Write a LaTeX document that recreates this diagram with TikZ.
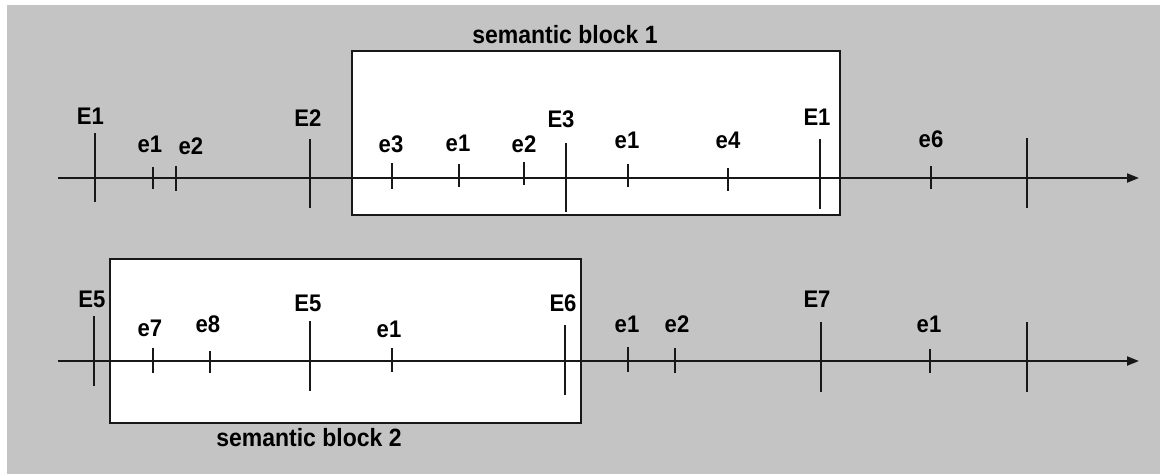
\documentclass[tikz,border=0pt]{standalone}
\usepackage{fontspec}
\setmainfont{Liberation Sans}[FakeStretch=0.92]
\usetikzlibrary{arrows.meta}
\definecolor{panel}{RGB}{196,196,196}
\definecolor{ink}{RGB}{24,24,24}
\begin{document}
\begin{tikzpicture}[x=1pt,y=-1pt,
  lbl/.style={anchor=base,inner sep=0pt,text=black,
    font=\bfseries\fontsize{24}{28}\selectfont},
  blocklbl/.style={lbl,font=\bfseries\fontsize{25}{29}\selectfont},
  blockbox/.style={draw=ink,line width=2pt,fill=white},
  axisline/.style={draw=ink,line width=2pt,-{Triangle[length=12pt,width=9pt]}},
  tickline/.style={draw=ink,line width=1.4pt}]
  \useasboundingbox (0,0) rectangle (1160,474);
  \fill[white] (0,0) rectangle (1160,474);
  \fill[panel] (7,5) rectangle (1160,474);

  % semantic blocks
  \draw[blockbox] (352,51) rectangle (840,215);
  \node[blocklbl] (sb1) at (565,43) {semantic block 1};
  \draw[blockbox] (110,259) rectangle (581,423);
  \node[blocklbl] (sb2) at (309,446) {semantic block 2};

  % time axes
  \coordinate (a1s) at (58,178);
  \coordinate (a1e) at (1139,178);
  \coordinate (a2s) at (58,361);
  \coordinate (a2e) at (1139,361);
  \draw[axisline] (a1s) -- (a1e);
  \draw[axisline] (a2s) -- (a2e);

  % ticks on the first axis: x / top / bottom
  \foreach \x/\ya/\yb [count=\i] in {95/133/202,153/167/189,176/166/191,
      310/139/208,392/163/189,459/164/187,524/162/185,566/143/212,
      628/164/187,728/168/191,820/139/209,931/166/189,1027/138/208}{
    \coordinate (ta\i) at (\x,\ya);
    \coordinate (tb\i) at (\x,\yb);
    \draw[tickline] (ta\i) -- (tb\i);
  }
  % ticks on the second axis
  \foreach \x/\ya/\yb [count=\i] in {94/316/386,153/348/373,210/351/373,
      310/321/391,392/348/372,565/325/395,628/347/372,675/348/373,
      821/322/392,930/349/373,1027/322/392}{
    \coordinate (ua\i) at (\x,\ya);
    \coordinate (ub\i) at (\x,\yb);
    \draw[tickline] (ua\i) -- (ub\i);
  }

  % event labels, first axis
  \foreach \x/\y/\t [count=\i] in {90.5/124/E1,150/152/e1,191/154/e2,
      308/126/E2,391/152/e3,458/151/e1,524/152/e2,561/127/E3,
      627/148/e1,728/148/e4,817/125/E1,931/147/e6}{
    \node[lbl] (la\i) at (\x,\y) {\t};
  }
  % event labels, second axis
  \foreach \x/\y/\t [count=\i] in {92/307/E5,150/336/e7,208/332/e8,
      308/311/E5,389/337/e1,563/311/E6,627/332/e1,677/332/e2,
      817/307/E7,929/332/e1}{
    \node[lbl] (lb\i) at (\x,\y) {\t};
  }
\end{tikzpicture}
\end{document}
